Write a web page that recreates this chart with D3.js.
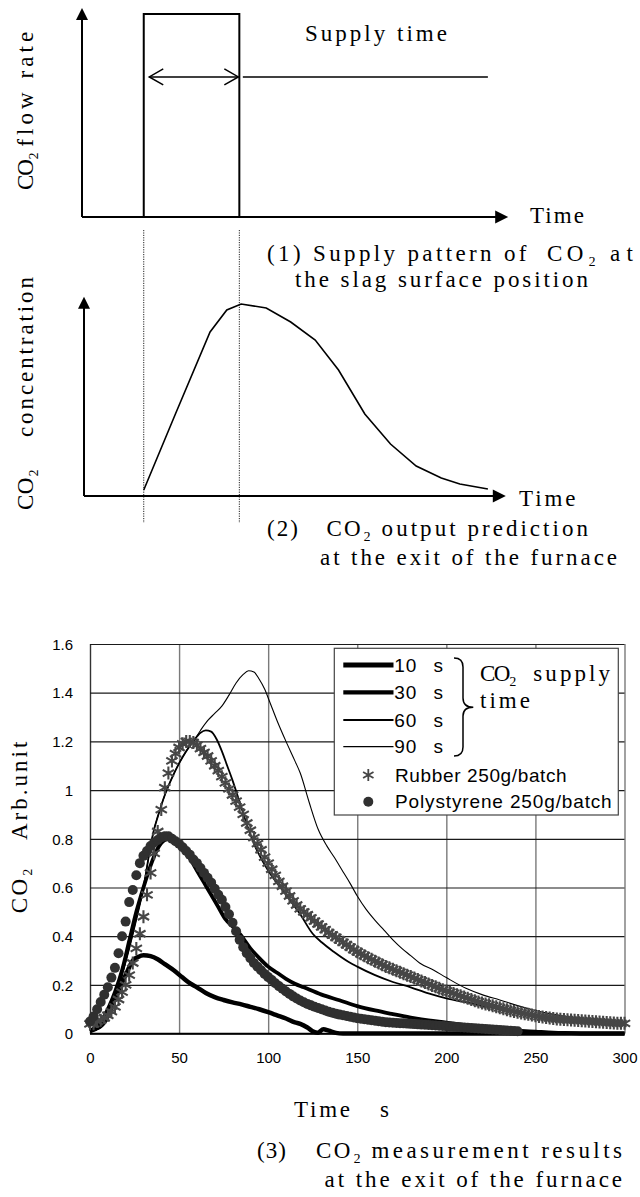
<!DOCTYPE html>
<html>
<head>
<meta charset="utf-8">
<script src="https://cdn.jsdelivr.net/npm/d3@7"></script>
<style>
  body { margin: 0; background: #fff; }
  svg { display: block; }
</style>
</head>
<body>
<svg id="fig" width="640" height="1197"></svg>
<script>
// ---------- (1) CO2 supply pulse at the slag surface (schematic time units) ----------
const supplyStart = 10;
const supplyEnd = 26;

// ---------- (2) predicted outlet CO2 concentration (schematic units) ----------
const predTime  = [10.0, 15.3, 21.1, 23.9, 26.3, 30.5, 34.6, 38.7, 42.6, 47.0, 51.3, 55.6, 59.8, 62.9, 67.6];
const predLevel = [0.03, 0.41, 0.82, 0.93, 0.96, 0.94, 0.87, 0.78, 0.63, 0.41, 0.26, 0.15, 0.09, 0.06, 0.035];

// ---------- (3) measured CO2 at the furnace exit ----------
const xTicks = [0, 50, 100, 150, 200, 250, 300];
const yTicks = [0, 0.2, 0.4, 0.6, 0.8, 1.0, 1.2, 1.4, 1.6];
const yTickLabels = ["0", "0.2", "0.4", "0.6", "0.8", "1", "1.2", "1.4", "1.6"];

// CO2 supply time runs (s, arb. unit)
const run10Time  = [0, 5, 10, 15, 20, 24, 27, 30, 34, 38, 42, 47, 52, 56, 60, 65, 70, 75, 80, 85, 90, 95, 100, 105, 110, 115, 118, 122, 125, 128, 131, 134, 138, 142, 300];
const run10Value = [0.01, 0.03, 0.08, 0.16, 0.24, 0.30, 0.315, 0.322, 0.318, 0.305, 0.285, 0.26, 0.23, 0.207, 0.19, 0.167, 0.15, 0.138, 0.128, 0.12, 0.11, 0.10, 0.088, 0.075, 0.062, 0.046, 0.04, 0.025, 0.01, 0.004, 0.018, 0.012, 0.003, 0, 0];

const run30Time  = [0, 5, 10, 14, 18, 22, 26, 30, 34, 38, 42, 45, 48, 52, 56, 60, 64, 68, 72, 76, 80, 84, 90, 95, 100, 105, 110, 115, 120, 130, 140, 150, 160, 170, 180, 190, 200, 210, 220, 230, 240, 250, 260, 270, 280, 300];
const run30Value = [0.01, 0.04, 0.10, 0.17, 0.26, 0.38, 0.50, 0.60, 0.69, 0.76, 0.795, 0.80, 0.79, 0.76, 0.72, 0.67, 0.62, 0.57, 0.52, 0.47, 0.44, 0.41, 0.35, 0.31, 0.275, 0.25, 0.225, 0.205, 0.19, 0.16, 0.137, 0.113, 0.095, 0.08, 0.066, 0.054, 0.045, 0.035, 0.025, 0.017, 0.012, 0.008, 0.004, 0.002, 0, 0];

const run60Time  = [0, 5, 10, 14, 18, 22, 26, 30, 34, 36, 38, 42, 46, 50, 54, 58, 62, 65, 68, 71, 74, 77, 80, 84, 88, 92, 96, 100, 110, 118, 125, 130, 137, 145, 150, 160, 170, 180, 190, 200, 210, 220, 230, 240, 250, 260, 270, 280, 290, 300];
const run60Value = [0.01, 0.02, 0.06, 0.13, 0.24, 0.35, 0.47, 0.60, 0.77, 0.84, 0.89, 0.98, 1.05, 1.11, 1.16, 1.20, 1.235, 1.245, 1.24, 1.21, 1.16, 1.10, 1.04, 0.95, 0.86, 0.78, 0.72, 0.67, 0.57, 0.49, 0.41, 0.375, 0.335, 0.295, 0.275, 0.24, 0.212, 0.19, 0.165, 0.145, 0.13, 0.115, 0.10, 0.085, 0.072, 0.062, 0.053, 0.046, 0.04, 0.035];

const run90Time  = [0, 5, 10, 14, 18, 22, 26, 30, 34, 36, 38, 42, 46, 50, 54, 58, 62, 66, 70, 74, 78, 82, 86, 89, 92, 95, 98, 101, 105, 110, 115, 118, 123, 128, 133, 137, 142, 146, 150, 155, 160, 165, 170, 175, 180, 185, 193, 200, 211, 220, 230, 240, 249, 258, 268, 280, 290, 300];
const run90Value = [0.01, 0.02, 0.06, 0.13, 0.24, 0.35, 0.47, 0.60, 0.77, 0.84, 0.89, 0.98, 1.05, 1.11, 1.16, 1.20, 1.245, 1.285, 1.315, 1.345, 1.39, 1.44, 1.475, 1.49, 1.485, 1.455, 1.415, 1.36, 1.285, 1.20, 1.12, 1.07, 0.95, 0.84, 0.77, 0.725, 0.665, 0.617, 0.565, 0.51, 0.465, 0.425, 0.385, 0.35, 0.32, 0.29, 0.26, 0.23, 0.186, 0.16, 0.138, 0.115, 0.097, 0.082, 0.069, 0.057, 0.048, 0.04];

// Rubber 250 g/batch, sampled every 2 s
const rubberTime = [
  0, 2, 4, 6, 8, 10, 12, 14, 16, 18, 20, 22, 24, 26, 28, 30, 32, 34, 36, 38,
  40, 42, 44, 46, 48, 50, 52, 54, 56, 58, 60, 62, 64, 66, 68, 70, 72, 74, 76, 78,
  80, 82, 84, 86, 88, 90, 92, 94, 96, 98, 100, 102, 104, 106, 108, 110, 112, 114, 116, 118,
  120, 122, 124, 126, 128, 130, 132, 134, 136, 138, 140, 142, 144, 146, 148, 150, 152, 154, 156, 158,
  160, 162, 164, 166, 168, 170, 172, 174, 176, 178, 180, 182, 184, 186, 188, 190, 192, 194, 196, 198,
  200, 202, 204, 206, 208, 210, 212, 214, 216, 218, 220, 222, 224, 226, 228, 230, 232, 234, 236, 238,
  240, 242, 244, 246, 248, 250, 252, 254, 256, 258, 260, 262, 264, 266, 268, 270, 272, 274, 276, 278,
  280, 282, 284, 286, 288, 290, 292, 294, 296, 298, 300];
const rubberValue = [
  0.04, 0.04, 0.05, 0.055, 0.065, 0.075, 0.09, 0.11, 0.14, 0.17, 0.20, 0.24, 0.29, 0.35, 0.41, 0.48, 0.57, 0.66, 0.74, 0.83,
  0.92, 1.01, 1.07, 1.12, 1.15, 1.175, 1.19, 1.20, 1.20, 1.195, 1.185, 1.17, 1.155, 1.14, 1.12, 1.10, 1.08, 1.055, 1.03, 1.005,
  0.98, 0.955, 0.93, 0.90, 0.865, 0.835, 0.805, 0.78, 0.755, 0.725, 0.70, 0.675, 0.65, 0.625, 0.605, 0.585, 0.565, 0.545, 0.528, 0.512,
  0.50, 0.488, 0.475, 0.462, 0.45, 0.438, 0.427, 0.415, 0.405, 0.395, 0.385, 0.375, 0.365, 0.355, 0.345, 0.336, 0.328, 0.32, 0.312, 0.305,
  0.297, 0.29, 0.283, 0.276, 0.27, 0.264, 0.258, 0.252, 0.246, 0.24, 0.234, 0.228, 0.222, 0.216, 0.21, 0.204, 0.198, 0.192, 0.186, 0.18,
  0.175, 0.17, 0.165, 0.16, 0.155, 0.15, 0.145, 0.14, 0.135, 0.13, 0.126, 0.122, 0.118, 0.114, 0.11, 0.106, 0.102, 0.098, 0.094, 0.091,
  0.088, 0.085, 0.082, 0.079, 0.076, 0.073, 0.07, 0.068, 0.066, 0.064, 0.062, 0.06, 0.059, 0.058, 0.057, 0.056, 0.055, 0.054, 0.053, 0.052,
  0.051, 0.05, 0.049, 0.048, 0.047, 0.046, 0.045, 0.044, 0.043, 0.042, 0.042];

// Polystyrene 250 g/batch, sampled every 2 s
const polyTime = [
  0, 2, 4, 6, 8, 10, 12, 14, 16, 18, 20, 22, 24, 26, 28, 30, 32, 34, 36, 38,
  40, 42, 44, 46, 48, 50, 52, 54, 56, 58, 60, 62, 64, 66, 68, 70, 72, 74, 76, 78,
  80, 82, 84, 86, 88, 90, 92, 94, 96, 98, 100, 102, 104, 106, 108, 110, 112, 114, 116, 118,
  120, 122, 124, 126, 128, 130, 132, 134, 136, 138, 140, 142, 144, 146, 148, 150, 152, 154, 156, 158,
  160, 162, 164, 166, 168, 170, 172, 174, 176, 178, 180, 182, 184, 186, 188, 190, 192, 194, 196, 198,
  200, 202, 204, 206, 208, 210, 212, 214, 216, 218, 220, 222, 224, 226, 228, 230, 232, 234, 236, 238, 240];
const polyValue = [
  0.05, 0.07, 0.10, 0.13, 0.16, 0.19, 0.23, 0.27, 0.33, 0.40, 0.46, 0.54, 0.59, 0.65, 0.70, 0.73, 0.75, 0.77, 0.785, 0.795,
  0.805, 0.81, 0.81, 0.80, 0.79, 0.78, 0.765, 0.75, 0.735, 0.715, 0.70, 0.68, 0.66, 0.64, 0.62, 0.595, 0.57, 0.55, 0.52, 0.49,
  0.455, 0.42, 0.385, 0.355, 0.33, 0.31, 0.29, 0.275, 0.26, 0.245, 0.232, 0.22, 0.207, 0.195, 0.184, 0.173, 0.163, 0.153, 0.144, 0.136,
  0.129, 0.122, 0.116, 0.11, 0.105, 0.10, 0.095, 0.09, 0.086, 0.082, 0.078, 0.075, 0.072, 0.069, 0.066, 0.063, 0.061, 0.059, 0.057, 0.055,
  0.053, 0.051, 0.049, 0.047, 0.046, 0.045, 0.044, 0.043, 0.042, 0.041, 0.04, 0.039, 0.038, 0.037, 0.036, 0.035, 0.034, 0.033, 0.032, 0.031,
  0.03, 0.029, 0.028, 0.027, 0.026, 0.025, 0.024, 0.023, 0.022, 0.021, 0.02, 0.019, 0.018, 0.017, 0.016, 0.015, 0.014, 0.013, 0.012, 0.011, 0.01];

const runLabels = ["10", "30", "60", "90"];
const markerLabels = ["Rubber 250g/batch", "Polystyrene 250g/batch"];

// ---------------------------------------------------------------------------
const svg = d3.select("#fig");
const serif = "Liberation Serif, DejaVu Serif, serif";
const sans = "Liberation Sans, DejaVu Sans, sans-serif";

// text helper: x/y is the left end and vertical centre; width stretches letter spacing
function label(str, x, y, width, opts = {}) {
  const t = svg.append("text")
    .attr("x", x).attr("y", y).attr("dy", "0.35em")
    .attr("font-family", opts.family || serif)
    .attr("font-size", opts.size || 23)
    .attr("fill", "#000")
    .text(str);
  if (width) t.attr("textLength", width).attr("lengthAdjust", "spacing");
  return t;
}
// vertical text reading bottom-to-top from yBottom up to yTop, centred on column cx
function vlabel(str, cx, yBottom, yTop, opts = {}) {
  const t = label(str, cx, yBottom, yBottom - yTop, opts);
  t.attr("transform", `rotate(-90 ${cx} ${yBottom})`);
  return t;
}
function arrowUp(x, yTip) {
  svg.append("path").attr("d", `M${x},${yTip} L${x - 6},${yTip + 12} L${x + 6},${yTip + 12} Z`).attr("fill", "#000");
}
function arrowRight(xTip, y) {
  svg.append("path").attr("d", `M${xTip},${y} L${xTip - 13},${y - 6.5} L${xTip - 13},${y + 6.5} Z`).attr("fill", "#000");
}

// ---------- schematic scales ----------
const tS = d3.scaleLinear().domain([0, 71]).range([84, 508.2]);
const flowY = d3.scaleLinear().domain([0, 1]).range([217, 14]);
const concY = d3.scaleLinear().domain([0, 1]).range([496, 296]);

// (1) supply pattern
const gSupply = svg.append("g").attr("stroke", "#000").attr("fill", "none");
gSupply.append("line").attr("x1", tS(0) - 2).attr("x2", tS(0) - 2).attr("y1", flowY(0)).attr("y2", 18).attr("stroke-width", 2);
arrowUp(tS(0) - 2, 8);
gSupply.append("line").attr("x1", tS(0) - 2).attr("x2", tS(70.2)).attr("y1", flowY(0)).attr("y2", flowY(0)).attr("stroke-width", 2);
arrowRight(tS(71), flowY(0));
gSupply.append("path")
  .attr("d", `M${tS(supplyStart)},${flowY(0)} V${flowY(1)} H${tS(supplyEnd)} V${flowY(0)}`)
  .attr("stroke-width", 2);
// supply-time double arrow and leader
const ya = flowY(0.69);
const xa0 = tS(supplyStart) + 5.5, xa1 = tS(supplyEnd) - 1;
gSupply.append("line").attr("x1", xa0).attr("x2", xa1).attr("y1", ya).attr("y2", ya).attr("stroke-width", 1.5);
gSupply.append("path").attr("d", `M${xa0 + 14},${ya - 8} L${xa0},${ya} L${xa0 + 14},${ya + 8}`).attr("stroke-width", 1.5);
gSupply.append("path").attr("d", `M${xa1 - 14},${ya - 8} L${xa1},${ya} L${xa1 - 14},${ya + 8}`).attr("stroke-width", 1.5);
gSupply.append("line").attr("x1", tS(supplyEnd) + 3.5).attr("x2", tS(67.6)).attr("y1", ya).attr("y2", ya).attr("stroke-width", 1.5);

label("Supply time", 305, 33, 142);
label("Time", 530, 215, 54);
vlabel("CO₂", 24.5, 190, 152);
vlabel("flow rate", 24.5, 146.7, 31.7);
label("(1) Supply pattern of", 267, 253, 259.5);
label("CO₂", 547, 253, 49);
label("at", 610, 253, 23);
label("the slag surface position", 295, 279, 293);

// dotted guides linking supply start/end to the prediction
[supplyStart, supplyEnd].forEach(t => {
  svg.append("line").attr("x1", tS(t)).attr("x2", tS(t)).attr("y1", 230).attr("y2", 523)
    .attr("stroke", "#222").attr("stroke-width", 1).attr("stroke-dasharray", "1.2,1.2");
});

// (2) output prediction
const gPred = svg.append("g").attr("stroke", "#000").attr("fill", "none");
gPred.append("line").attr("x1", tS(0)).attr("x2", tS(0)).attr("y1", concY(0)).attr("y2", 306).attr("stroke-width", 2);
arrowUp(tS(0), concY(1) + 0.7);
gPred.append("line").attr("x1", tS(0)).attr("x2", tS(70)).attr("y1", concY(0)).attr("y2", concY(0)).attr("stroke-width", 2);
arrowRight(tS(70.6), concY(0));
gPred.append("path")
  .datum(d3.zip(predTime, predLevel))
  .attr("d", d3.line().x(d => tS(d[0])).y(d => concY(d[1])))
  .attr("stroke-width", 1.6);

label("Time", 519, 498, 56.5);
vlabel("CO₂", 24.5, 510, 469);
vlabel("concentration", 24.5, 437, 277);
label("(2)", 267, 528, 31);
label("CO₂", 326.5, 528, 44.5);
label("output prediction", 381.6, 528, 206.4);
label("at the exit of the furnace", 320, 557, 297);

// ---------- (3) measurement chart ----------
const x = d3.scaleLinear().domain([0, 300]).range([90, 624.5]);
const y = d3.scaleLinear().domain([0, 1.6]).range([1033.6, 644]);
const plotW = x(300) - x(0), plotH = y(0) - y(1.6);

// vertical grid (grey) via bottom axis
const gx = svg.append("g").attr("transform", `translate(0,${y(0)})`)
  .call(d3.axisBottom(x).tickValues(xTicks).tickSize(-plotH).tickFormat(d3.format("d")));
gx.select(".domain").remove();
gx.selectAll(".tick line").attr("stroke", d => d === 0 ? "#333" : "#7a7a7a").attr("stroke-width", 1.4);
gx.selectAll(".tick text").attr("y", 24).attr("dy", "0.35em")
  .attr("font-family", sans).attr("font-size", 15).attr("fill", "#000");

// horizontal grid (dark) via left axis
const gy = svg.append("g").attr("transform", `translate(${x(0)},0)`)
  .call(d3.axisLeft(y).tickValues(yTicks).tickSize(-plotW).tickFormat((d, i) => yTickLabels[i]));
gy.select(".domain").remove();
gy.selectAll(".tick line").attr("stroke", "#1a1a1a").attr("stroke-width", 1.2);
gy.selectAll(".tick text").attr("x", -17).attr("dy", "0.35em")
  .attr("font-family", sans).attr("font-size", 15).attr("fill", "#000");

// bottom axis line
svg.append("line").attr("x1", x(0)).attr("x2", x(300)).attr("y1", y(0)).attr("y2", y(0))
  .attr("stroke", "#000").attr("stroke-width", 1.6);

// series lines
const lineGen = d3.line().x(d => x(d[0])).y(d => y(d[1])).curve(d3.curveMonotoneX);
const runs = [
  { t: run10Time, v: run10Value, w: 4.5 },
  { t: run30Time, v: run30Value, w: 3.8 },
  { t: run60Time, v: run60Value, w: 1.8 },
  { t: run90Time, v: run90Value, w: 1.1 }
];
svg.append("g").selectAll("path").data(runs).join("path")
  .attr("d", r => lineGen(d3.zip(r.t, r.v)))
  .attr("fill", "none").attr("stroke", "#000").attr("stroke-width", r => r.w)
  .attr("stroke-linejoin", "round");

// asterisk marker path (vertical bar plus an X)
function asterisk(s) {
  const a = s * 0.87, b = s * 0.5;
  return `M0,${-s} L0,${s} M${-a},${-b} L${a},${b} M${-a},${b} L${a},${-b}`;
}
svg.append("g").selectAll("path").data(d3.zip(rubberTime, rubberValue)).join("path")
  .attr("transform", d => `translate(${x(d[0])},${y(d[1])})`)
  .attr("d", asterisk(6.5))
  .attr("fill", "none").attr("stroke", "#464646").attr("stroke-width", 2.1);

svg.append("g").selectAll("circle").data(d3.zip(polyTime, polyValue)).join("circle")
  .attr("cx", d => x(d[0])).attr("cy", d => y(d[1])).attr("r", 5)
  .attr("fill", "#303030");

// legend
const lg = svg.append("g");
lg.append("rect").attr("x", 334.3).attr("y", 648.3).attr("width", 284).attr("height", 166.7)
  .attr("fill", "#fff").attr("stroke", "#444").attr("stroke-width", 1.2);
const rowY = [665, 692.3, 720, 746.7, 775, 801.7];
runs.forEach((r, i) => {
  lg.append("line").attr("x1", 343.3).attr("x2", 393.5).attr("y1", rowY[i]).attr("y2", rowY[i])
    .attr("stroke", "#000").attr("stroke-width", r.w + (i < 2 ? 0.5 : 0.2));
  label(runLabels[i], 394.3, rowY[i], 22, { family: sans, size: 19 });
  label("s", 433.5, rowY[i], null, { family: sans, size: 19 });
});
lg.append("path").attr("transform", `translate(368.3,${rowY[4]})`).attr("d", asterisk(6))
  .attr("fill", "none").attr("stroke", "#464646").attr("stroke-width", 1.8);
lg.append("circle").attr("cx", 368.3).attr("cy", rowY[5]).attr("r", 5).attr("fill", "#303030");
label(markerLabels[0], 395, rowY[4], 171.7, { family: sans, size: 19 });
label(markerLabels[1], 395, rowY[5], 216.7, { family: sans, size: 19 });

// brace grouping the supply-time runs
lg.append("path")
  .attr("d", "M454,658 Q463,658 463,667 L463,698 Q463,707.3 473.3,707.3 Q463,707.3 463,716 L463,747 Q463,756 454,756")
  .attr("fill", "none").attr("stroke", "#000").attr("stroke-width", 1.5);
label("CO₂", 480, 673.3, 36.7);
label("supply", 533.3, 673.3, 76.7);
label("time", 480, 700, 50);

// axis titles and caption
vlabel("CO₂", 19, 913.3, 868.3);
vlabel("Arb.unit", 19, 840, 741.7);
label("Time", 294, 1109, 56);
label("s", 380, 1109, null);
label("(3)", 257, 1150, 29);
label("CO₂", 316, 1150, 45);
label("measurement results", 371.4, 1150, 250.6);
label("at the exit of the furnace", 324.5, 1179, 297.5);
</script>
</body>
</html>
